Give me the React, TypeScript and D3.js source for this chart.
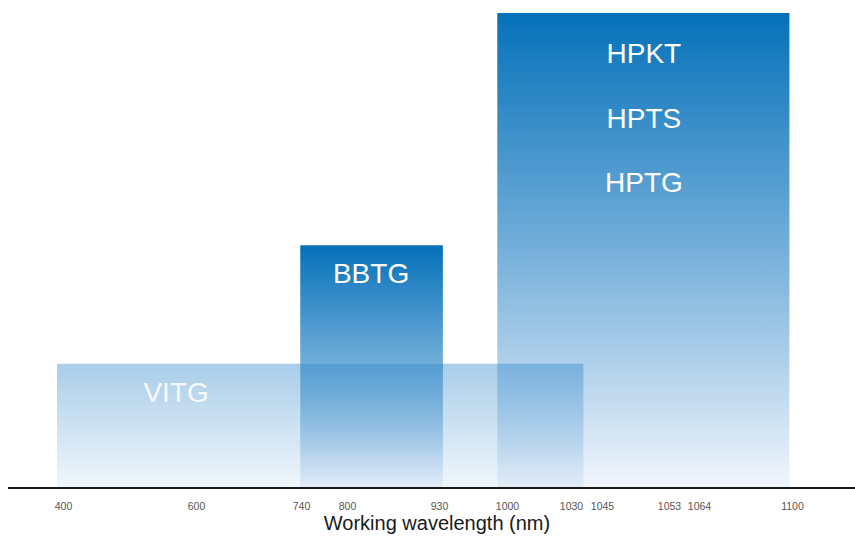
import * as d3 from "d3";
import { useEffect, useRef } from "react";

// wavelength ticks shown on the axis (nm)
const tickValues = [400, 600, 740, 800, 930, 1000, 1030, 1045, 1053, 1064, 1100];

// product ranges: start/end wavelength and relative height level
const productNames = ["BBTG", "HPKT", "VITG"];
const productStart = [739, 990, 391];
const productEnd = [934, 1099, 1036];
const productLevel = [51, 100, 26];
const productLabels = [["BBTG"], ["HPKT", "HPTS", "HPTG"], ["VITG"]];
const labelAt = [834, 1050, 570];

const axisTitle = "Working wavelength (nm)";

// layout: pixel position of each tick (the axis is not linear)
const tickPx = [63, 196, 301, 347, 439, 507, 571, 602, 669, 699, 792];

const App = () => {
    const svgRef = useRef(null);

    useEffect(() => {
        document.body.style.margin = "0";
        const svg = d3.select(svgRef.current);
        const width = 855;
        const height = 540;
        const baseY = 488;
        const topY = 13;
        const font = "'Liberation Sans', Arial, Helvetica, sans-serif";

        svg.selectAll("*").remove();

        const x = d3.scaleLinear().domain(tickValues).range(tickPx);
        const y = d3.scaleLinear().domain([0, 100]).range([baseY - 1, topY]);

        const defs = svg.append("defs");
        const dark = defs.append("linearGradient")
            .attr("id", "grad-dark")
            .attr("x1", 0).attr("y1", 0).attr("x2", 0).attr("y2", 1);
        dark.append("stop").attr("offset", "0%").attr("stop-color", "#0571b9");
        dark.append("stop").attr("offset", "50%").attr("stop-color", "#74afda");
        dark.append("stop").attr("offset", "100%").attr("stop-color", "#f1f5fc");

        const light = defs.append("linearGradient")
            .attr("id", "grad-light")
            .attr("x1", 0).attr("y1", 0).attr("x2", 0).attr("y2", 1);
        light.append("stop").attr("offset", "0%").attr("stop-color", "rgb(40,130,200)").attr("stop-opacity", 0.4);
        light.append("stop").attr("offset", "100%").attr("stop-color", "rgb(40,130,200)").attr("stop-opacity", 0.07);

        const data = productNames.map((name, i) => ({
            name,
            start: productStart[i],
            end: productEnd[i],
            level: productLevel[i],
            labels: productLabels[i],
            labelX: labelAt[i],
        }));

        const bars = svg.append("g");
        bars.selectAll("rect")
            .data(data)
            .join("rect")
            .attr("x", d => x(d.start))
            .attr("y", d => y(d.level))
            .attr("width", d => x(d.end) - x(d.start))
            .attr("height", d => y(0) - y(d.level))
            .attr("fill", d => d.name === "VITG" ? "url(#grad-light)" : "url(#grad-dark)");

        data.forEach(d => {
            const first = d.labels.length > 1 ? 50 : 38;
            d.labels.forEach((t, j) => {
                svg.append("text")
                    .attr("x", x(d.labelX))
                    .attr("y", y(d.level) + first + j * 64.5)
                    .attr("text-anchor", "middle")
                    .attr("font-family", font)
                    .attr("font-size", 28)
                    .attr("fill", "#ffffff")
                    .attr("fill-opacity", d.name === "VITG" ? 0.9 : 1)
                    .text(t);
            });
        });

        const axis = svg.append("g")
            .attr("transform", `translate(0,${baseY})`)
            .call(d3.axisBottom(x).tickValues(tickValues).tickSize(0).tickPadding(15).tickFormat(d3.format("d")));
        axis.select(".domain").remove();
        axis.selectAll("text")
            .attr("font-family", font)
            .attr("font-size", 10.5)
            .attr("fill", "#555");

        svg.append("line")
            .attr("x1", 8)
            .attr("x2", width)
            .attr("y1", baseY)
            .attr("y2", baseY)
            .attr("stroke", "#1a1a1a")
            .attr("stroke-width", 2);

        svg.append("text")
            .attr("x", 437)
            .attr("y", height - 10)
            .attr("text-anchor", "middle")
            .attr("font-family", font)
            .attr("font-size", 20)
            .attr("fill", "#1a1a1a")
            .text(axisTitle);
    }, []);

    return <svg ref={svgRef} width={855} height={540} style={{ display: "block" }} />;
};

export default App;
